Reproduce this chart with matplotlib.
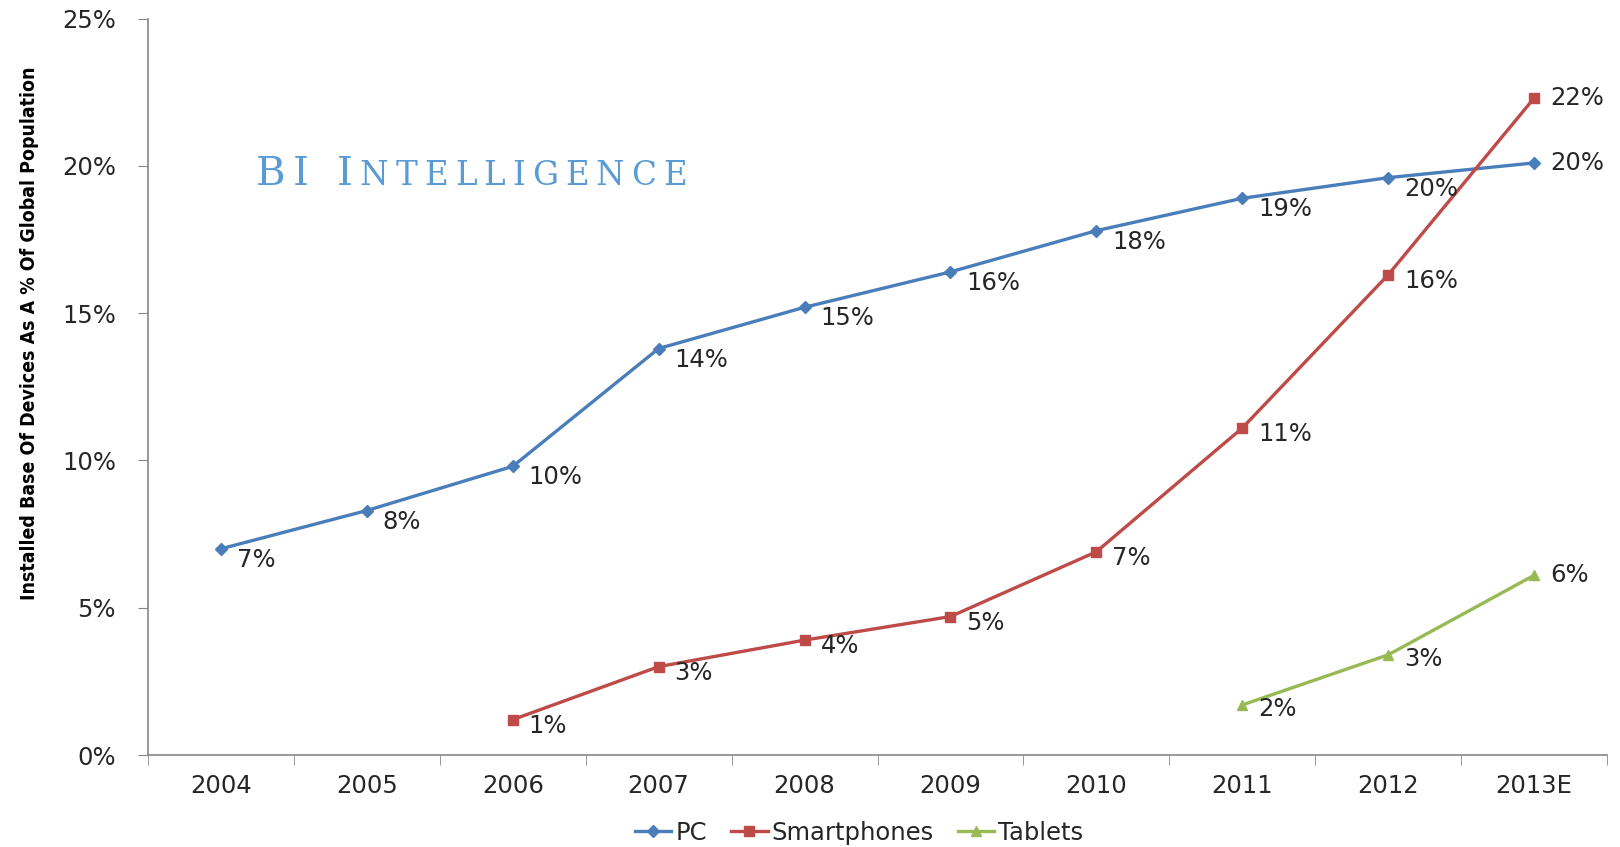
import numpy as np
import matplotlib.pyplot as plt

# data (% of global population)
years = ['2004', '2005', '2006', '2007', '2008', '2009', '2010', '2011', '2012', '2013E']
pc = [7.0, 8.3, 9.8, 13.8, 15.2, 16.4, 17.8, 18.9, 19.6, 20.1]
smartphones = [np.nan, np.nan, 1.2, 3.0, 3.9, 4.7, 6.9, 11.1, 16.3, 22.3]
tablets = [np.nan] * 7 + [1.7, 3.4, 6.1]
yticks = [0, 5, 10, 15, 20, 25]

W, H = 1620, 847
fig = plt.figure(figsize=(W / 100, H / 100), dpi=100)
ax = fig.add_axes([148 / W, 1 - 755 / H, (1607 - 148) / W, (755 - 18.6) / H])

x = np.arange(len(years))
series = [
    ('PC', pc, '#4a7ebb', 'D', 6, -11),
    ('Smartphones', smartphones, '#be4b48', 's', 7, -6),
    ('Tablets', tablets, '#98b954', '^', 7, -4),
]
text_color = '#262626'
fs = 17.5

for name, vals, color, marker, ms, dy in series:
    vals = np.asarray(vals, dtype=float)
    ax.plot(x, vals, color=color, lw=2.4, marker=marker, markersize=ms,
            markeredgecolor=color, label=name)
    for i, v in enumerate(vals):
        if np.isnan(v):
            continue
        last = i == len(vals) - 1
        ax.annotate(f'{v:.0f}%', (x[i], v), xytext=(16, 0 if last else dy),
                    textcoords='offset pixels', ha='left', va='center',
                    fontsize=fs, color=text_color)

ax.set_xlim(-0.5, len(years) - 0.5)
ax.set_ylim(0, 25)
ax.set_yticks(yticks)
ax.set_yticklabels([f'{t}%' for t in yticks])
ax.set_xticks(x)
ax.set_xticklabels(years)
ax.set_xticks(np.arange(-0.5, len(years)), minor=True)
ax.tick_params(axis='x', which='major', length=0, pad=14, labelsize=fs, labelcolor=text_color)
ax.tick_params(axis='x', which='minor', length=7, color='#868686', direction='out')
ax.tick_params(axis='y', length=7, color='#868686', pad=16, labelsize=fs, labelcolor=text_color)

for side in ['top', 'right']:
    ax.spines[side].set_visible(False)
for side in ['left', 'bottom']:
    ax.spines[side].set_color('#868686')
    ax.spines[side].set_linewidth(1.2)

ax.legend(loc='center', bbox_to_anchor=(859 / W, 1 - 833 / H), bbox_transform=fig.transFigure,
          ncol=3, frameon=False, fontsize=17.5, handlelength=1.5, handletextpad=0.15,
          columnspacing=1.0, labelcolor=text_color)

renderer = fig.canvas.get_renderer()

# y label: condensed bold, sized to span the same height as in the reference
ylab = fig.text(30 / W, 1 - 333 / H, 'Installed Base Of Devices As A % Of Global Population',
                rotation=90, ha='center', va='center', fontsize=17, fontweight='bold',
                fontstretch='condensed', family='DejaVu Sans', color='black')
h = ylab.get_window_extent(renderer).height
ylab.set_fontsize(17 * 532 / h)

# "BI INTELLIGENCE" wordmark in small caps, spaced out to the reference width
bi_color = '#5b9bd5'
x0, x1 = 256, 687
base = 1 - 185 / H
chars = []
for s, size in [('BI', 29), (' ', 29), ('I', 29), ('NTELLIGENCE', 23.5)]:
    for ch in s:
        if ch == ' ':
            chars.append((None, 14))
            continue
        t = fig.text(0, base, ch, fontsize=size, family='DejaVu Serif',
                     color=bi_color, va='baseline', ha='left')
        chars.append((t, t.get_window_extent(renderer).width))
total = sum(w for _, w in chars)
track = (x1 - x0 - total) / (len(chars) - 1)
cx = x0
for t, w in chars:
    if t is not None:
        t.set_x(cx / W)
    cx += w + track

fig.savefig('out.png', dpi=100)
